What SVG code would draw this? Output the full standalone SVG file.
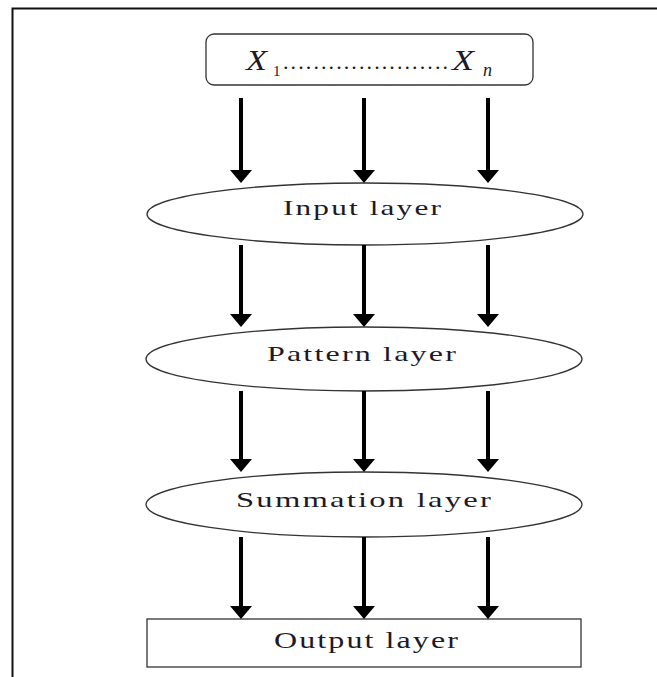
<svg xmlns="http://www.w3.org/2000/svg" width="657" height="677" viewBox="0 0 657 677">
<defs>
<style>
.lbl{font-family:"Liberation Serif","Times New Roman",serif;fill:#1d1a26;text-anchor:start}
.wide{letter-spacing:1.5px}
.node{fill:#fff;stroke:#333;stroke-width:1.3}
.arr{stroke:#000;stroke-width:4;fill:none;marker-end:url(#ah)}
.math{font-family:"Liberation Serif","Times New Roman",serif;font-style:italic;fill:#1d1a26}
</style>
<marker id="ah" markerUnits="userSpaceOnUse" markerWidth="14" markerHeight="22" viewBox="0 0 14 22" refX="2" refY="11" orient="auto">
<path d="M0,0 L13,11 L0,22 Z" fill="#000"/>
</marker>
</defs>
<rect width="657" height="677" fill="#fff"/>
<path d="M12.5,677 V8.5 H657" fill="none" stroke="#111" stroke-width="2"/>

<g id="inputs">
<rect class="node" x="206" y="34" width="327" height="51" rx="8" ry="8"/>
<text class="math" x="246" y="70" font-size="30" textLength="21" lengthAdjust="spacingAndGlyphs">X</text>
<text class="lbl" x="273" y="76" font-size="15">1</text>
<text class="lbl" x="283" y="69" font-size="22" textLength="165" lengthAdjust="spacing">......................</text>
<text class="math" x="452" y="70" font-size="30" textLength="22" lengthAdjust="spacingAndGlyphs">X</text>
<text class="math" x="483" y="76" font-size="18">n</text>
</g>

<g id="input-layer">
<ellipse class="node" cx="365" cy="214" rx="218" ry="31"/>
<text class="lbl wide" x="283" y="214.5" font-size="22" textLength="160" lengthAdjust="spacingAndGlyphs">Input layer</text>
</g>

<g id="pattern-layer">
<ellipse class="node" cx="364" cy="359" rx="218" ry="32"/>
<text class="lbl wide" x="267" y="361" font-size="22" textLength="191" lengthAdjust="spacingAndGlyphs">Pattern layer</text>
</g>

<g id="summation-layer">
<ellipse class="node" cx="364" cy="504.5" rx="218" ry="32.5"/>
<text class="lbl wide" x="236" y="506.5" font-size="22" textLength="257" lengthAdjust="spacingAndGlyphs">Summation layer</text>
</g>

<g id="output-layer">
<rect class="node" x="147" y="619" width="434" height="48" stroke-width="1.6"/>
<text class="lbl wide" x="274" y="648" font-size="23" textLength="186" lengthAdjust="spacingAndGlyphs">Output layer</text>
</g>

<g id="connectors">
<line class="arr" x1="241" y1="98" x2="241" y2="172"/>
<line class="arr" x1="364" y1="98" x2="364" y2="172"/>
<line class="arr" x1="488" y1="98" x2="488" y2="172"/>
<line class="arr" x1="241" y1="245" x2="241" y2="316"/>
<line class="arr" x1="364" y1="245" x2="364" y2="316"/>
<line class="arr" x1="488" y1="245" x2="488" y2="316"/>
<line class="arr" x1="241" y1="391" x2="241" y2="461"/>
<line class="arr" x1="364" y1="391" x2="364" y2="461"/>
<line class="arr" x1="488" y1="391" x2="488" y2="461"/>
<line class="arr" x1="241" y1="537" x2="241" y2="608"/>
<line class="arr" x1="364" y1="537" x2="364" y2="608"/>
<line class="arr" x1="488" y1="537" x2="488" y2="608"/>
</g>
</svg>
